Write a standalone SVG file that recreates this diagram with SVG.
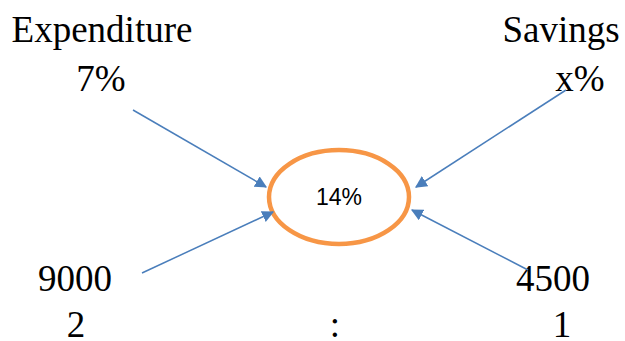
<svg xmlns="http://www.w3.org/2000/svg" width="625" height="341" viewBox="0 0 625 341">
<style>
.t{font-family:"Liberation Serif","Times New Roman",serif;font-size:37px;fill:#000}
.c{stroke:#4A7EBB;stroke-width:1.5;fill:none;marker-end:url(#ah)}
</style>
<defs>
<marker id="ah" viewBox="0 0 10 10" refX="9" refY="5" markerWidth="12" markerHeight="12" markerUnits="userSpaceOnUse" orient="auto">
<path d="M0,0 L10,5 L0,10 z" fill="#4A7EBB"/>
</marker>
</defs>
<rect width="625" height="341" fill="#fff"/>
<g id="labels">
<text class="t" x="102" y="42" text-anchor="middle">Expenditure</text>
<text class="t" x="101" y="91" text-anchor="middle">7%</text>
<text class="t" x="561" y="42" text-anchor="middle">Savings</text>
<text class="t" x="580" y="91" text-anchor="middle">x%</text>
<text class="t" x="75" y="291" text-anchor="middle">9000</text>
<text class="t" x="553" y="291" text-anchor="middle">4500</text>
<text class="t" x="76" y="337" text-anchor="middle">2</text>
<text class="t" x="335" y="337" text-anchor="middle">:</text>
<text class="t" x="562" y="337" text-anchor="middle">1</text>
</g>
<g id="center">
<ellipse cx="339" cy="197" rx="70" ry="47" fill="#fff" stroke="#F79646" stroke-width="4.5"/>
<text x="339" y="205" text-anchor="middle" font-family="'Liberation Sans',Arial,sans-serif" font-size="23" fill="#000">14%</text>
</g>
<g id="connectors">
<line class="c" x1="133" y1="110" x2="266" y2="187"/>
<line class="c" x1="142" y1="273" x2="273" y2="212"/>
<line class="c" x1="566" y1="90" x2="416" y2="187"/>
<line class="c" x1="528" y1="270" x2="412" y2="210"/>
</g>
</svg>
